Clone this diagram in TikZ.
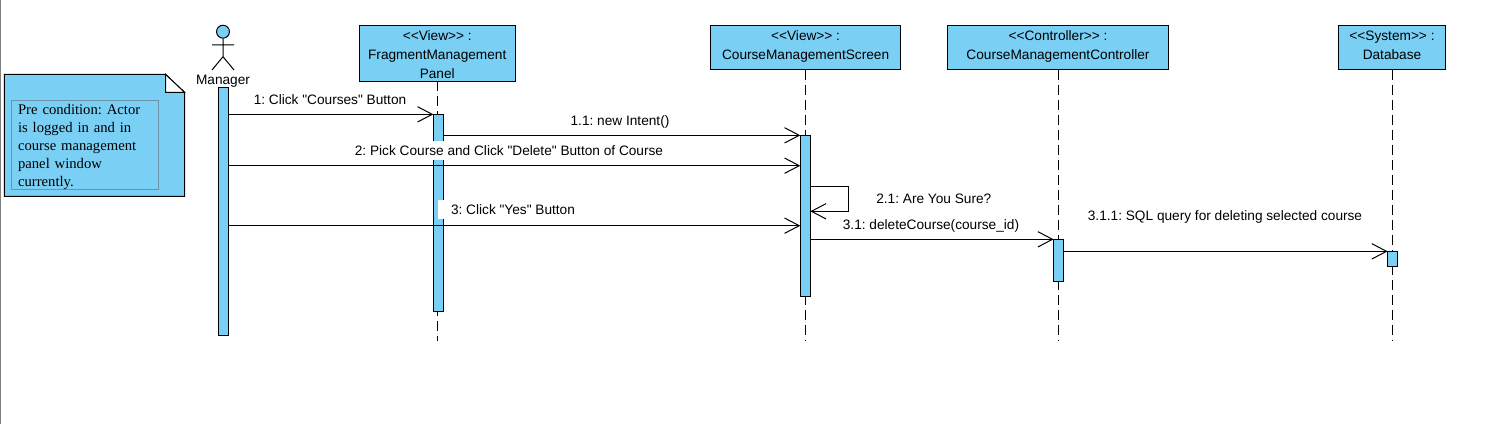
\documentclass[tikz,border=0pt]{standalone}
\usepackage{fontspec}
\newfontfamily\labelfont{Liberation Sans}
\newfontfamily\notefont{Liberation Serif}
\usetikzlibrary{arrows.meta}
\definecolor{umlblue}{HTML}{7ACFF5}
\definecolor{notegrey}{HTML}{6E93A8}
\newcommand{\boxfoot}{\rule[-3.8pt]{0pt}{0pt}}
\frenchspacing
\tikzset{
every node/.style={font=\labelfont\fontsize{10.25}{14.25}\selectfont}, % sets the text of all the labels
>={Straight Barb[length=11pt,width=11.5pt]}, % makes the open arrow heads
lifebox/.style={draw, fill=umlblue, line width=0.75pt, align=center, inner ysep=0pt, outer sep=0pt}, % the boxes at the top
bar/.style={draw, fill=umlblue, line width=0.75pt, minimum width=7.5pt, inner sep=0pt, outer sep=0pt}, % the activation bars
lifeline/.style={line width=0.75pt, dash pattern=on 7.5pt off 3.75pt}, % the dashed lines
msg/.style={->, line width=0.75pt}, % the messages
msglabel/.style={inner sep=0pt}, % sets the text above a message
}

\begin{document}
\begin{tikzpicture}[x=0.75pt,y=-0.75pt]
    \useasboundingbox (0,0) rectangle (1498,424);
    \draw[gray, line width=0.9pt] (0.5,0) -- (0.5,424);

    % note
    \draw[fill=umlblue, line width=0.75pt] (4.4,74.3) -- (165.5,74.3) -- (184.5,92.3) -- (184.5,196.3) -- (4.4,196.3) -- cycle;
    \draw[fill=white, line width=0.75pt] (165.5,74.3) -- (184.5,92.3) -- (165.5,92.3) -- cycle;
    \node[draw=notegrey, line width=0.5pt, minimum width=110.2pt, minimum height=67pt, inner sep=0pt, align=left, text width=100.4pt, font=\notefont\fontsize{11}{13.35}\selectfont] (noteText) at (85,145) {\rule{0pt}{10.6pt}Pre condition: Actor\\is logged in and in\\course management\\panel window\\currently.};

    % boxes
    \node[lifebox, minimum width=117pt, minimum height=42.2pt] (boxPanel) at (437.25,53.15) {\rule{0pt}{9pt}<<View>> :\\FragmentManagement\\Panel};
    \node[lifebox, minimum width=142.4pt, minimum height=33.5pt] (boxScreen) at (805.6,47.35) {<<View>> :\\CourseManagementScreen\boxfoot};
    \node[lifebox, minimum width=166pt, minimum height=33.5pt] (boxController) at (1058,47.35) {<<Controller>> :\\CourseManagementController\boxfoot};
    \node[lifebox, minimum width=80pt, minimum height=33.5pt] (boxDatabase) at (1392,47.35) {<<System>> :\\Database\boxfoot};

    % actor
    \node[circle, draw, fill=umlblue, line width=0.75pt, minimum size=9.7pt, inner sep=0pt] (head) at (223,31.7) {};
    \coordinate (hip) at (223,56.7);
    \coordinate (armL) at (212,45);
    \coordinate (armR) at (234,45);
    \coordinate (footL) at (212,70);
    \coordinate (footR) at (234,70);
    \draw[line width=0.75pt] (head.south) -- (hip) (armL) -- (armR) (footL) -- (hip) -- (footR);
    \node (manager) at (223,80.8) {Manager};

    % lifelines
    \coordinate (lifeEnd) at (0,341);
    \draw[lifeline] (boxPanel.south) -- (boxPanel.south |- lifeEnd);
    \draw[lifeline] (boxScreen.south) -- (boxScreen.south |- lifeEnd);
    \draw[lifeline] (boxController.south) -- (boxController.south |- lifeEnd);
    \draw[lifeline] (boxDatabase.south) -- (boxDatabase.south |- lifeEnd);

    % activation bars
    \node[bar, minimum height=185.8pt] (actManager) at (223.3,211.15) {};
    \node[bar, minimum height=148pt] (actPanel) at (438.3,213) {};
    \node[bar, minimum height=121pt] (actScreen) at (805.3,216) {};
    \node[bar, minimum height=31.5pt] (actController) at (1058.6,260.3) {};
    \node[bar, minimum height=11.5pt] (actDatabase) at (1392.6,259) {};

    % labels
    \node[msglabel] (l1) at (330,100) {1: Click "Courses" Button};
    \node[msglabel] (l11) at (620,121.6) {1.1: new Intent()};
    \node[msglabel, fill=white, minimum height=14.5pt] (l2) at (509,150.2) {2: Pick Course and Click "Delete" Button of Course};
    \node[msglabel, fill=white, inner xsep=9.75pt, minimum height=14.25pt] (l3) at (513,209.8) {3: Click "Yes" Button};
    \node[msglabel] (l21) at (933.8,198.3) {2.1: Are You Sure?};
    \node[msglabel] (l31) at (931,225.6) {3.1: deleteCourse(course\_id)};
    \node[msglabel] (l311) at (1225,216.6) {3.1.1: SQL query for deleting selected course};

    % messages
    \coordinate (y2) at (0,165.7);
    \coordinate (y3) at (0,225.7);
    \coordinate (selfTop) at (848.3,186.7);
    \coordinate (selfBottom) at (848.3,211.3);
    \draw[msg] (actManager.east |- actPanel.north) -- (actPanel.north west);
    \draw[msg] (actPanel.east |- actScreen.north) -- (actScreen.north west);
    \draw[msg] (actManager.east |- y2) -- (actScreen.west |- y2);
    \draw[msg] (actScreen.east |- selfTop) -- (selfTop) -- (selfBottom) -- (actScreen.east |- selfBottom);
    \draw[msg] (actManager.east |- y3) -- (actScreen.west |- y3);
    \draw[msg] (actScreen.east |- actController.north) -- (actController.north west);
    \draw[msg] (actController.east |- actDatabase.north) -- (actDatabase.north west);
\end{tikzpicture}
\end{document}
